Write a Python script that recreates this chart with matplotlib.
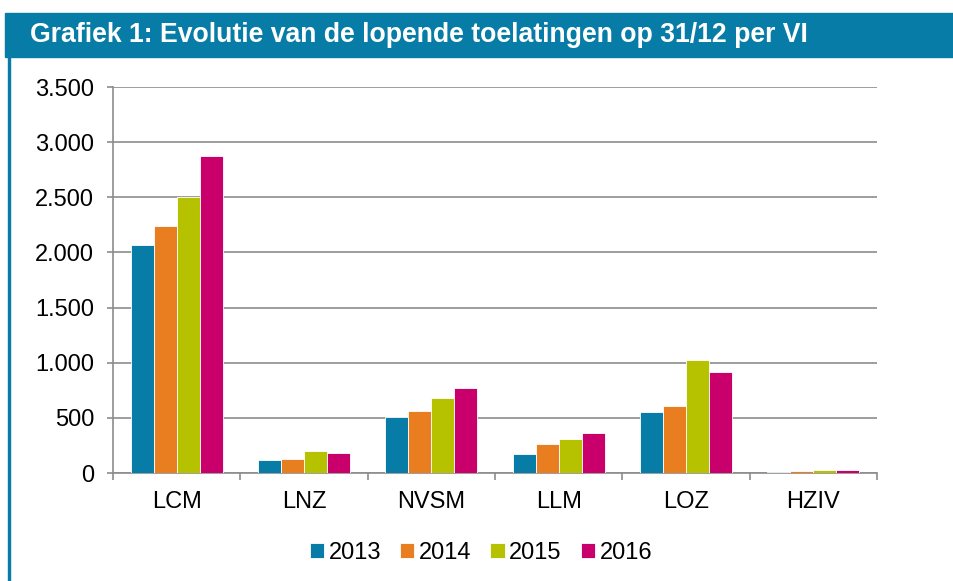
import numpy as np
import matplotlib.pyplot as plt
from matplotlib.patches import Rectangle
from matplotlib.ticker import FuncFormatter

plt.rcParams['font.family'] = ['Liberation Sans', 'DejaVu Sans']

# Data
categories = ['LCM', 'LNZ', 'NVSM', 'LLM', 'LOZ', 'HZIV']
years = ['2013', '2014', '2015', '2016']
v2013 = [2070, 118, 510, 175, 550, 10]
v2014 = [2240, 127, 559, 260, 604, 20]
v2015 = [2500, 199, 680, 308, 1024, 30]
v2016 = [2870, 184, 770, 360, 916, 25]
series = [v2013, v2014, v2015, v2016]
colors = ['#077CA6', '#E87E1F', '#B6C200', '#C9006B']

fig = plt.figure(figsize=(9.54, 5.81), dpi=100)

# title bar and left border
fig.patches.append(Rectangle((5 / 954, 1 - 57 / 581), 1, 44 / 581,
                             transform=fig.transFigure, color='#077CA6', zorder=0))
fig.patches.append(Rectangle((8 / 954, 0), 2 / 954, 1 - 57 / 581,
                             transform=fig.transFigure, color='#077CA6', zorder=0))
fig.text(30 / 954, 1 - 35 / 581, 'Grafiek 1: Evolutie van de lopende toelatingen op 31/12 per VI',
         color='white', fontsize=19.2, fontweight='bold', va='center', ha='left')

ax = fig.add_axes([113 / 954, 1 - 473 / 581, 764 / 954, 386 / 581])

x = np.arange(len(categories))
bw = 0.18
for i, (vals, c, yr) in enumerate(zip(series, colors, years)):
    ax.bar(x + (i - 1.5) * bw, vals, width=bw, color=c, edgecolor='white',
           linewidth=0.6, label=yr, zorder=3)

ax.set_xlim(-0.5, len(categories) - 0.5)
ax.set_ylim(0, 3500)
ax.set_yticks(np.arange(0, 3501, 500))
ax.yaxis.set_major_formatter(FuncFormatter(lambda v, p: f'{int(v):,}'.replace(',', '.')))
ax.yaxis.grid(True, color='#8C8C8C', linewidth=1.2, zorder=0)

ax.set_xticks(x)
ax.set_xticklabels(categories)
ax.set_xticks(np.arange(-0.5, len(categories)), minor=True)
ax.tick_params(axis='x', which='major', length=0, pad=13, labelsize=17)
ax.tick_params(axis='x', which='minor', length=5, width=1.2, color='#8C8C8C', direction='out')
ax.tick_params(axis='y', length=4.5, width=1.2, color='#8C8C8C', labelsize=17, pad=9)

for s in ['top', 'right']:
    ax.spines[s].set_visible(False)
for s in ['left', 'bottom']:
    ax.spines[s].set_color('#8C8C8C')
    ax.spines[s].set_linewidth(1.2)

fig.legend(*ax.get_legend_handles_labels(), loc='center',
           bbox_to_anchor=(481 / 954, 1 - 553 / 581), ncol=4, frameon=False,
           fontsize=17, handlelength=0.6, handleheight=0.6, handletextpad=0.2,
           columnspacing=0.8)

fig.savefig('out.png', dpi=100)
